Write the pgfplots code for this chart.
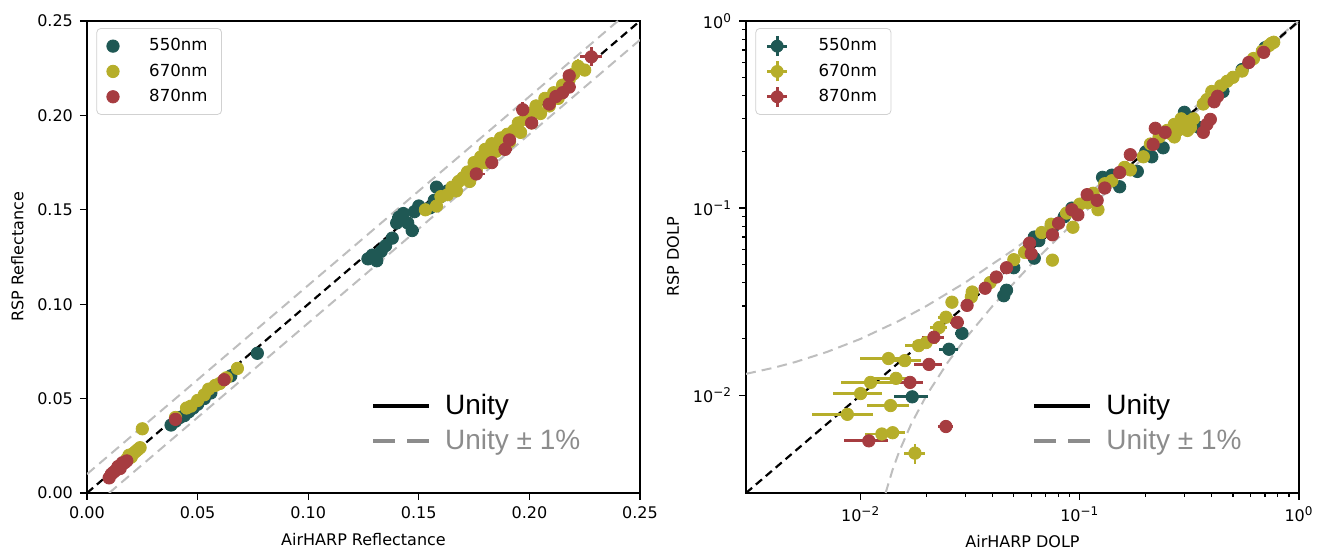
\documentclass[border=0pt]{standalone}
\usepackage{fontspec}
\setmainfont{DejaVu Sans}
\newfontfamily\arialfont{Liberation Sans}
\usepackage{pgfplots}
\pgfplotsset{compat=1.18}
\definecolor{c550}{RGB}{31,88,84}
\definecolor{c670}{RGB}{182,174,42}
\definecolor{c870}{RGB}{166,60,64}
\definecolor{lgray}{RGB}{190,190,190}

\pgfplotsset{
  panel/.style={
    scale only axis, width=276.5pt, height=236pt,
    axis line style={line width=0.6pt},
    tick align=outside, tick pos=left,
    major tick length=3.5pt, minor tick length=2pt,
    every tick/.style={black, line width=0.6pt},
    tick label style={font=\fontsize{8}{9}\selectfont},
    label style={font=\fontsize{8}{9}\selectfont},
    /pgf/number format/assume math mode=true,
    legend cell align=left,
    legend style={draw=black!18, rounded corners=2pt, font=\fontsize{8.3}{10}\selectfont,
      at={(0.017,0.985)}, anchor=north west, inner xsep=5pt, inner ysep=3pt, row sep=1pt,
      /tikz/every odd column/.append style={column sep=13pt}},
  },
  pts/.style={only marks, mark=*, mark size=3.1pt, color=#1,
    error bars/.cd, x dir=both, x explicit, y dir=both, y explicit,
    error mark=none, error bar style={line width=1.4pt}},
  unity/.style={black, line width=1.1pt, dash pattern=on 4pt off 2.5pt},
  pm/.style={lgray, line width=1pt, dash pattern=on 5pt off 3pt},
  unitylegend/.style={
    scale only axis, width=276.5pt, height=236pt, hide axis,
    xmin=0, xmax=1, ymin=0, ymax=1,
    legend cell align=left,
    legend image code/.code={\draw[##1] (0pt,0pt) -- (28pt,0pt);},
    legend style={draw=none, fill=none, font=\arialfont\fontsize{14}{15}\selectfont,
      anchor=north west, inner sep=0pt, row sep=2pt,
      /tikz/every odd column/.append style={column sep=5pt}},
  },
}

\begin{document}
\begin{tikzpicture}
\useasboundingbox (-43.5pt,-28.5pt) rectangle (615pt,246.5pt);

% ---------- left: reflectance ----------
\begin{axis}[panel,
  at={(0pt,0pt)},
  xmin=0, xmax=0.25, ymin=0, ymax=0.25,
  xtick={0,0.05,0.1,0.15,0.2,0.25},
  ytick={0,0.05,0.1,0.15,0.2,0.25},
  xticklabel style={/pgf/number format/.cd, fixed, fixed zerofill, precision=2},
  yticklabel style={/pgf/number format/.cd, fixed, fixed zerofill, precision=2},
  xlabel={AirHARP Reflectance}, ylabel={RSP Reflectance},
]
\addplot[pm, forget plot] coordinates {(0,0.01) (0.24,0.25)};
\addplot[pm, forget plot] coordinates {(0.01,0) (0.25,0.24)};
\addplot[unity, forget plot] coordinates {(0,0) (0.25,0.25)};

\addplot[pts=c550] table[x=x, y=y, x error=ex, y error=ey] {
x y ex ey
0.038 0.036 0.001 0.001
0.040 0.038 0.001 0.001
0.042 0.040 0.001 0.001
0.044 0.041 0.001 0.001
0.046 0.043 0.001 0.001
0.048 0.045 0.001 0.001
0.050 0.047 0.001 0.001
0.053 0.050 0.001 0.001
0.056 0.053 0.001 0.001
0.065 0.062 0.001 0.001
0.077 0.074 0.001 0.001
0.127 0.124 0.002 0.002
0.129 0.126 0.002 0.002
0.131 0.123 0.002 0.002
0.133 0.128 0.002 0.002
0.135 0.131 0.002 0.002
0.138 0.135 0.002 0.002
0.140 0.143 0.003 0.003
0.141 0.146 0.003 0.003
0.143 0.148 0.003 0.003
0.145 0.143 0.002 0.002
0.147 0.139 0.003 0.002
0.150 0.152 0.002 0.002
0.155 0.151 0.002 0.002
0.157 0.155 0.002 0.002
0.160 0.157 0.002 0.002
0.163 0.160 0.002 0.002
0.158 0.162 0.002 0.002
0.148 0.149 0.002 0.002
};
\addlegendentry{550nm}

\addplot[pts=c670] table[x=x, y=y, x error=ex, y error=ey] {
x y ex ey
0.018 0.018 0.001 0.001
0.019 0.020 0.001 0.001
0.020 0.019 0.001 0.001
0.021 0.021 0.001 0.001
0.022 0.022 0.001 0.001
0.023 0.023 0.001 0.001
0.024 0.024 0.001 0.001
0.025 0.034 0.001 0.001
0.040 0.040 0.001 0.001
0.045 0.045 0.001 0.001
0.047 0.046 0.001 0.001
0.050 0.049 0.001 0.001
0.053 0.052 0.001 0.001
0.055 0.055 0.001 0.001
0.058 0.057 0.001 0.001
0.060 0.058 0.001 0.001
0.063 0.061 0.001 0.001
0.068 0.066 0.001 0.001
0.153 0.150 0.002 0.002
0.158 0.152 0.002 0.002
0.160 0.157 0.002 0.002
0.163 0.158 0.002 0.002
0.165 0.162 0.002 0.002
0.167 0.160 0.002 0.002
0.168 0.165 0.002 0.002
0.170 0.167 0.002 0.002
0.172 0.170 0.002 0.002
0.173 0.165 0.002 0.002
0.175 0.175 0.002 0.002
0.176 0.171 0.002 0.002
0.178 0.178 0.002 0.002
0.180 0.175 0.002 0.002
0.180 0.182 0.002 0.002
0.182 0.179 0.002 0.002
0.183 0.185 0.002 0.002
0.185 0.181 0.002 0.002
0.187 0.188 0.002 0.002
0.188 0.184 0.002 0.002
0.190 0.190 0.002 0.002
0.191 0.186 0.002 0.002
0.193 0.192 0.002 0.002
0.195 0.196 0.002 0.002
0.196 0.191 0.002 0.002
0.198 0.198 0.002 0.002
0.200 0.201 0.002 0.002
0.201 0.196 0.002 0.002
0.203 0.205 0.002 0.002
0.205 0.201 0.002 0.002
0.207 0.209 0.002 0.002
0.209 0.205 0.002 0.002
0.211 0.212 0.002 0.002
0.213 0.209 0.002 0.002
0.215 0.216 0.002 0.002
0.218 0.219 0.002 0.002
0.220 0.222 0.002 0.002
0.222 0.226 0.002 0.004
0.225 0.224 0.002 0.002
};
\addlegendentry{670nm}

\addplot[pts=c870] table[x=x, y=y, x error=ex, y error=ey] {
x y ex ey
0.010 0.008 0.001 0.001
0.011 0.010 0.001 0.001
0.012 0.011 0.001 0.001
0.013 0.012 0.001 0.001
0.014 0.014 0.001 0.001
0.015 0.013 0.001 0.001
0.016 0.016 0.001 0.001
0.017 0.016 0.001 0.001
0.018 0.017 0.001 0.001
0.040 0.039 0.001 0.001
0.062 0.060 0.001 0.001
0.176 0.169 0.004 0.003
0.183 0.175 0.003 0.003
0.189 0.182 0.003 0.003
0.191 0.187 0.003 0.003
0.197 0.203 0.003 0.004
0.201 0.196 0.003 0.003
0.209 0.206 0.003 0.003
0.212 0.210 0.002 0.002
0.218 0.215 0.003 0.003
0.218 0.221 0.003 0.003
0.215 0.212 0.002 0.002
0.228 0.231 0.005 0.005
};
\addlegendentry{870nm}
\end{axis}

\begin{axis}[unitylegend, at={(0pt,0pt)},
  legend style={at={(0.513,0.219)}}]
\addlegendimage{black, line width=2pt}
\addlegendentry{Unity}
\addlegendimage{gray!90, line width=2pt, dash pattern=on 11pt off 6pt}
\addlegendentry[text=gray!90]{Unity ± 1\%}
\end{axis}

% ---------- right: DOLP ----------
\begin{axis}[panel,
  at={(329.5pt,0pt)},
  xmode=log, ymode=log,
  xmin=0.003, xmax=1, ymin=0.003, ymax=1,
  xtick={0.01,0.1,1}, ytick={0.01,0.1,1},
  xticklabels={10\textsuperscript{−2},10\textsuperscript{−1},10\textsuperscript{0}},
  yticklabels={10\textsuperscript{−2},10\textsuperscript{−1},10\textsuperscript{0}},
  xlabel={AirHARP DOLP}, ylabel={RSP DOLP},
  legend image code/.code={
    \draw[line width=1.4pt, solid] (0.3cm-5pt,0pt) -- (0.3cm+5pt,0pt) (0.3cm,-5pt) -- (0.3cm,5pt);
    \fill (0.3cm,0pt) circle (3pt);},
]
\addplot[pm, forget plot] coordinates {
(0.003,0.013) (0.004,0.014) (0.005,0.015) (0.007,0.017) (0.01,0.02) (0.015,0.025)
(0.02,0.03) (0.03,0.04) (0.05,0.06) (0.1,0.11) (0.2,0.21) (0.5,0.51) (0.99,1)};
\addplot[pm, forget plot] coordinates {
(0.013,0.003) (0.014,0.004) (0.015,0.005) (0.017,0.007) (0.02,0.01) (0.025,0.015)
(0.03,0.02) (0.04,0.03) (0.06,0.05) (0.1,0.09) (0.2,0.19) (0.5,0.49) (1,0.99)};
\addplot[unity, forget plot] coordinates {(0.003,0.003) (1,1)};

\addplot[pts=c550] table[x=x, y=y, x error=ex, y error=ey] {
x y ex ey
0.0172 0.0098 0.0030 0.0004
0.0253 0.0176 0.0025 0.0005
0.0290 0.0214 0.0020 0.0005
0.045 0.034 0.001 0.001
0.0463 0.0364 0.001 0.001
0.050 0.048 0.001 0.001
0.058 0.060 0.001 0.001
0.062 0.054 0.001 0.001
0.062 0.070 0.001 0.001
0.065 0.067 0.001 0.001
0.075 0.078 0.001 0.001
0.085 0.090 0.001 0.001
0.092 0.100 0.001 0.001
0.110 0.115 0.001 0.001
0.127 0.146 0.002 0.002
0.140 0.150 0.002 0.002
0.152 0.130 0.002 0.002
0.183 0.157 0.002 0.002
0.200 0.200 0.002 0.002
0.213 0.188 0.002 0.002
0.240 0.210 0.002 0.002
0.280 0.270 0.002 0.002
0.300 0.325 0.002 0.002
0.320 0.300 0.002 0.002
0.350 0.270 0.002 0.002
0.450 0.420 0.002 0.002
0.550 0.550 0.002 0.002
0.700 0.720 0.002 0.002
};
\addlegendentry{550nm}

\addplot[pts=c670] table[x=x, y=y, x error=ex, y error=ey] {
x y ex ey
0.0134 0.0157 0.0035 0.0004
0.0159 0.0153 0.0030 0.0004
0.0111 0.0117 0.0030 0.0004
0.0145 0.0123 0.0030 0.0004
0.0100 0.0102 0.0025 0.0004
0.0137 0.0088 0.0030 0.0004
0.0087 0.0079 0.0027 0.0004
0.0125 0.0062 0.0020 0.0004
0.0140 0.0063 0.0020 0.0004
0.0177 0.0049 0.0020 0.0006
0.0184 0.0184 0.0025 0.0004
0.0199 0.0191 0.0025 0.0004
0.0228 0.0230 0.0020 0.0004
0.0245 0.0261 0.0020 0.0004
0.0261 0.0314 0.0015 0.0004
0.0323 0.0356 0.0015 0.0005
0.0320 0.0335 0.0015 0.0005
0.0390 0.0400 0.001 0.001
0.0500 0.0530 0.001 0.001
0.0560 0.0580 0.001 0.001
0.0670 0.0740 0.001 0.001
0.0740 0.0820 0.001 0.001
0.0750 0.0527 0.001 0.001
0.0870 0.0940 0.001 0.001
0.0930 0.0790 0.001 0.001
0.1000 0.1050 0.001 0.001
0.1090 0.1070 0.001 0.001
0.1150 0.1200 0.001 0.001
0.1210 0.0980 0.001 0.001
0.1300 0.1350 0.002 0.002
0.1400 0.1400 0.002 0.002
0.1600 0.1650 0.002 0.002
0.1700 0.1600 0.002 0.002
0.1950 0.1880 0.002 0.002
0.2100 0.2200 0.002 0.002
0.2300 0.2400 0.002 0.002
0.2500 0.2600 0.002 0.002
0.2600 0.2500 0.002 0.002
0.2700 0.2800 0.002 0.002
0.2800 0.2600 0.002 0.002
0.2900 0.2700 0.002 0.002
0.3000 0.2800 0.002 0.002
0.3100 0.2900 0.002 0.002
0.3200 0.2700 0.002 0.002
0.3300 0.3000 0.002 0.002
0.3100 0.2600 0.002 0.002
0.2900 0.3000 0.002 0.002
0.2700 0.2400 0.002 0.002
0.3660 0.3600 0.002 0.002
0.3800 0.3800 0.002 0.002
0.4000 0.4200 0.002 0.002
0.4400 0.4500 0.002 0.002
0.4700 0.4760 0.002 0.002
0.5000 0.5000 0.002 0.002
0.5500 0.5400 0.002 0.002
0.6200 0.6300 0.002 0.002
0.6800 0.6900 0.002 0.002
0.7300 0.7400 0.002 0.002
0.7500 0.7600 0.002 0.002
0.7670 0.7700 0.002 0.002
};
\addlegendentry{670nm}

\addplot[pts=c870] table[x=x, y=y, x error=ex, y error=ey] {
x y ex ey
0.0109 0.0057 0.0025 0.0004
0.0168 0.0117 0.0025 0.0004
0.0205 0.0146 0.0030 0.0004
0.0245 0.0068 0.0020 0.0004
0.0216 0.0204 0.0025 0.0004
0.0276 0.0245 0.0020 0.0004
0.0306 0.0302 0.0015 0.0005
0.0370 0.0373 0.001 0.001
0.0416 0.0428 0.001 0.001
0.0463 0.0480 0.001 0.001
0.0590 0.0650 0.001 0.001
0.0600 0.0570 0.001 0.001
0.0750 0.0720 0.001 0.001
0.0800 0.0830 0.001 0.001
0.0920 0.0980 0.001 0.001
0.0980 0.0920 0.001 0.001
0.1080 0.1180 0.001 0.001
0.1200 0.1100 0.001 0.001
0.1300 0.1280 0.002 0.002
0.1520 0.1550 0.002 0.002
0.1700 0.1930 0.002 0.002
0.2160 0.2190 0.002 0.002
0.2210 0.2670 0.002 0.002
0.2450 0.2540 0.002 0.002
0.3660 0.2540 0.002 0.002
0.3800 0.2800 0.002 0.002
0.3940 0.2980 0.002 0.002
0.4100 0.3700 0.002 0.002
0.4250 0.3960 0.002 0.002
0.5900 0.6000 0.002 0.002
0.6900 0.6800 0.002 0.002
};
\addlegendentry{870nm}
\end{axis}

\begin{axis}[unitylegend, at={(329.5pt,0pt)},
  legend style={at={(0.517,0.219)}}]
\addlegendimage{black, line width=2pt}
\addlegendentry{Unity}
\addlegendimage{gray!90, line width=2pt, dash pattern=on 11pt off 6pt}
\addlegendentry[text=gray!90]{Unity ± 1\%}
\end{axis}
\end{tikzpicture}
\end{document}
